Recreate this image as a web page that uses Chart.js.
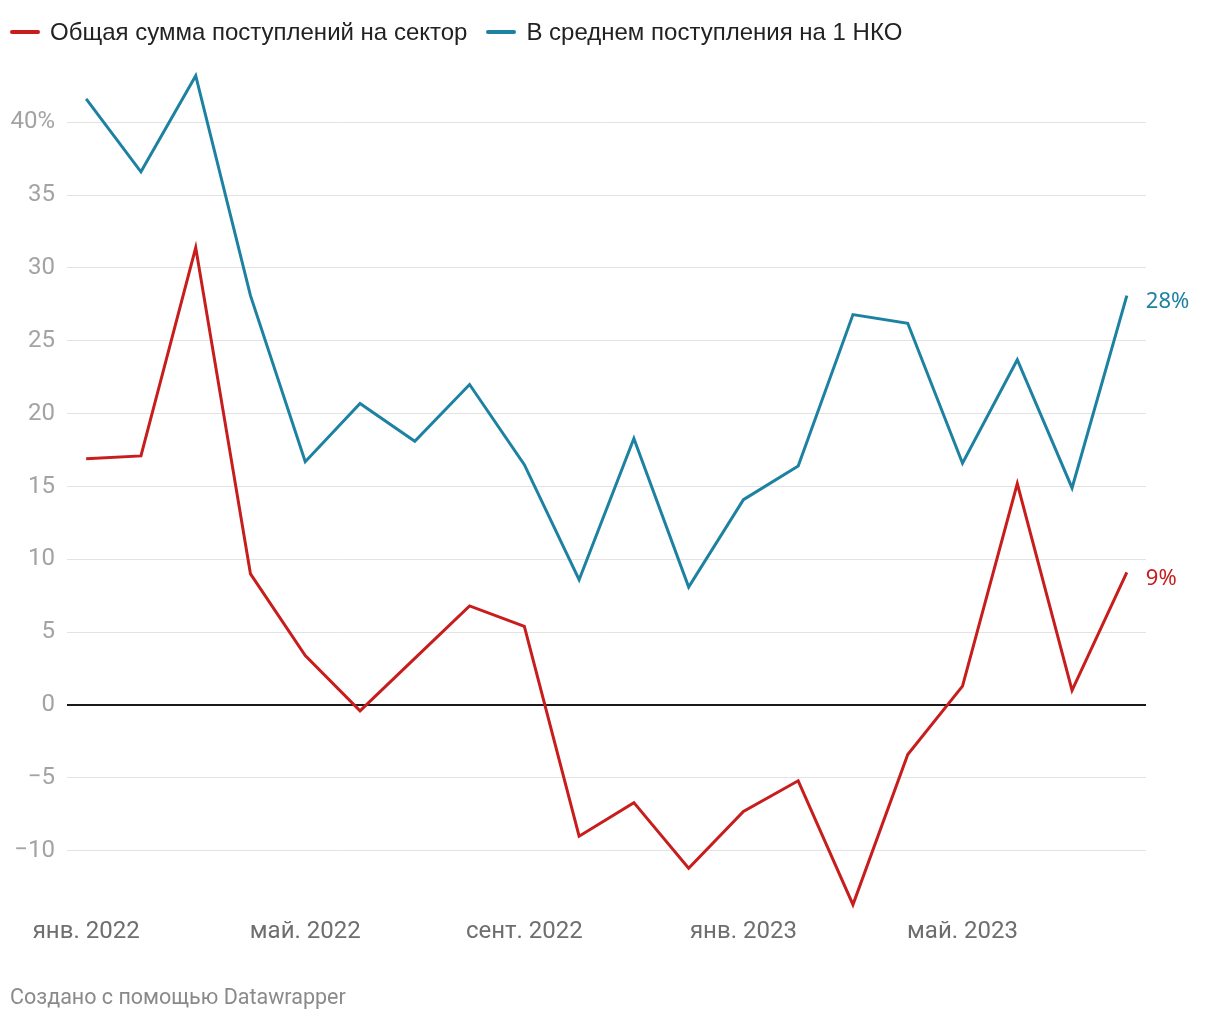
<!DOCTYPE html>
<html lang="ru">
<head>
<meta charset="utf-8">
<script src="https://cdn.jsdelivr.net/npm/chart.js@4"></script>
<style>
  html, body { margin: 0; padding: 0; background: #fff; }
  #wrap { position: relative; width: 1220px; height: 1020px; }
  #legend {
    position: absolute; left: 10px; top: 18px;
    display: flex; align-items: center;
    font-family: "Liberation Sans", Arial, sans-serif; font-size: 24px; color: #222;
  }
  .item { display: flex; align-items: center; margin-right: 19px; }
  .swatch { width: 30px; height: 4px; border-radius: 2px; margin-right: 10px; }
  #footer {
    position: absolute; left: 10px; top: 984px;
    font-family: Roboto, sans-serif; font-size: 21.5px; color: #8a8a8a;
  }
</style>
</head>
<body>
<div id="wrap">
  <canvas id="chart" width="1220" height="1020"></canvas>
  <div id="legend"></div>
  <div id="footer">Создано с помощью Datawrapper</div>
</div>
<script>
// месяцы: янв. 2022 – авг. 2023
const months = [
  'янв. 2022', 'февр. 2022', 'март 2022', 'апр. 2022', 'май. 2022', 'июнь 2022',
  'июль 2022', 'авг. 2022', 'сент. 2022', 'окт. 2022', 'нояб. 2022', 'дек. 2022',
  'янв. 2023', 'февр. 2023', 'март 2023', 'апр. 2023', 'май. 2023', 'июнь 2023',
  'июль 2023', 'авг. 2023'
];
const xTickIdx = [0, 4, 8, 12, 16];
const yTicks = [-10, -5, 0, 5, 10, 15, 20, 25, 30, 35, 40];

const seriesNames = ['Общая сумма поступлений на сектор', 'В среднем поступления на 1 НКО'];
const seriesColors = ['#c71e1d', '#1d81a2'];

const totalSector = [16.9, 17.1, 31.4, 9.0, 3.4, -0.4, 3.2, 6.8, 5.4, -9.0,
  -6.7, -11.2, -7.3, -5.2, -13.7, -3.4, 1.3, 15.2, 1.0, 9.1];
const perNko = [41.6, 36.6, 43.2, 28.1, 16.7, 20.7, 18.1, 22.0, 16.5, 8.6,
  18.3, 8.1, 14.1, 16.4, 26.8, 26.2, 16.6, 23.7, 14.9, 28.1];
const endLabels = ['9%', '28%'];

// легенда
const legend = document.getElementById('legend');
seriesNames.forEach((name, i) => {
  const item = document.createElement('div');
  item.className = 'item';
  item.innerHTML = '<span class="swatch" style="background:' + seriesColors[i] + '"></span>' + name;
  legend.appendChild(item);
});

// подписи последних значений
const endLabelPlugin = {
  id: 'endLabels',
  afterDatasetsDraw(chart) {
    const ctx = chart.ctx;
    ctx.save();
    ctx.font = '22px "Noto Sans", sans-serif';
    ctx.textBaseline = 'middle';
    chart.data.datasets.forEach((ds, i) => {
      const pts = chart.getDatasetMeta(i).data;
      const p = pts[pts.length - 1];
      ctx.fillStyle = ds.borderColor;
      ctx.fillText(endLabels[i], p.x + 19, p.y + 6);
    });
    ctx.restore();
  }
};

const series = [totalSector, perNko];
new Chart(document.getElementById('chart'), {
  type: 'line',
  data: {
    datasets: series.map((vals, i) => ({
      label: seriesNames[i],
      data: vals.map((v, j) => ({ x: j, y: v })),
      borderColor: seriesColors[i],
      borderWidth: 3,
      pointRadius: 0,
      tension: 0,
      fill: false
    }))
  },
  options: {
    responsive: false,
    animation: false,
    layout: { padding: { top: 64, right: 74, bottom: 0, left: 0 } },
    plugins: { legend: { display: false }, tooltip: { enabled: false } },
    scales: {
      x: {
        type: 'linear',
        min: -0.35,
        max: 19.35,
        afterBuildTicks: axis => { axis.ticks = xTickIdx.map(v => ({ value: v })); },
        afterFit: axis => { axis.height = 111; },
        ticks: {
          padding: 1,
          color: '#6e6e6e',
          font: { family: 'Roboto', size: 24 },
          maxRotation: 0,
          autoSkip: false,
          callback: v => months[v]
        },
        grid: { display: false },
        border: { display: false }
      },
      y: {
        min: -14,
        max: 44,
        afterBuildTicks: axis => { axis.ticks = yTicks.map(v => ({ value: v })); },
        afterFit: axis => { axis.width = 67; },
        ticks: {
          padding: 12,
          color: '#a3a3a3',
          font: { family: 'Roboto', size: 24 },
          callback: v => v === 40 ? '40%' : (v < 0 ? '\u2212' + Math.abs(v) : String(v))
        },
        grid: {
          drawTicks: false,
          color: ctx => ctx.tick && ctx.tick.value === 0 ? '#1a1a1a' : '#e3e3e3',
          lineWidth: ctx => ctx.tick && ctx.tick.value === 0 ? 2 : 1
        },
        border: { display: false }
      }
    }
  },
  plugins: [endLabelPlugin]
});
</script>
</body>
</html>
